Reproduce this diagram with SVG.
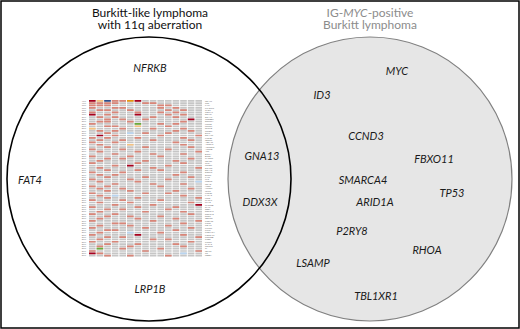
<svg xmlns="http://www.w3.org/2000/svg" width="520" height="329" viewBox="0 0 520 329">
<style>
.ti{font-family:Lato,"Open Sans","Liberation Sans",sans-serif;font-size:12px;text-anchor:middle}
.tl{fill:#111}
.tr{fill:#8c8c8c}
.g{font-family:Lato,"Open Sans","Liberation Sans",sans-serif;font-size:11px;font-style:italic;fill:#1a1a1a;text-anchor:middle}
.sm{font-family:"Liberation Sans",Arial,sans-serif;font-size:2.1px;fill:#666}
</style>
<rect x="1" y="1" width="518" height="327" fill="#fff" stroke="#000" stroke-width="1.5"/>
<g id="set-right">
<circle cx="370" cy="179" r="142" fill="#e6e6e6" stroke="#808080" stroke-width="1.2"/>
<text class="ti tr" x="370" y="17">IG-<tspan font-style="italic">MYC</tspan>-positive</text>
<text class="ti tr" x="370" y="29">Burkitt lymphoma</text>
</g>
<g id="set-left">
<circle cx="149" cy="179" r="142" fill="none" stroke="#000" stroke-width="1.6"/>
<text class="ti tl" x="150" y="17">Burkitt-like lymphoma</text>
<text class="ti tl" x="150" y="29">with 11q aberration</text>
</g>
<g id="heatmap">
<g transform="translate(89,100) scale(7.6,2.31)">
<path d="M.435 0V68M1.435 0V68M2.435 0V68M3.435 0V68M4.435 0V68M5.435 0V68M6.435 0V68M7.435 0V68M8.435 0V68M9.435 0V68M10.435 0V68M11.435 0V68M12.435 0V68M13.435 0V68M14.435 0V68" stroke="#c6c6c6" stroke-width=".87" stroke-dasharray=".74 .26" fill="none"/>
<path fill="#d98578" d="M3 0h.87v.74h-.87zM4 0h.87v.74h-.87zM0 1h.87v.74h-.87zM1 1h.87v.74h-.87zM2 1h.87v.74h-.87zM3 1h.87v.74h-.87zM7 1h.87v.74h-.87zM8 1h.87v.74h-.87zM0 2h.87v.74h-.87zM1 2h.87v.74h-.87zM2 2h.87v.74h-.87zM9 2h.87v.74h-.87zM10 2h.87v.74h-.87zM0 3h.87v.74h-.87zM3 3h.87v.74h-.87zM4 3h.87v.74h-.87zM9 3h.87v.74h-.87zM11 3h.87v.74h-.87zM1 4h.87v.74h-.87zM2 4h.87v.74h-.87zM5 4h.87v.74h-.87zM10 4h.87v.74h-.87zM12 4h.87v.74h-.87zM0 5h.87v.74h-.87zM3 5h.87v.74h-.87zM6 5h.87v.74h-.87zM9 5h.87v.74h-.87zM11 5h.87v.74h-.87zM2 6h.87v.74h-.87zM10 6h.87v.74h-.87zM12 6h.87v.74h-.87zM1 7h.87v.74h-.87zM3 7h.87v.74h-.87zM8 7h.87v.74h-.87zM11 7h.87v.74h-.87zM2 8h.87v.74h-.87zM4 8h.87v.74h-.87zM7 8h.87v.74h-.87zM1 9h.87v.74h-.87zM2 9h.87v.74h-.87zM5 9h.87v.74h-.87zM12 9h.87v.74h-.87zM0 10h.87v.74h-.87zM9 10h.87v.74h-.87zM11 10h.87v.74h-.87zM2 11h.87v.74h-.87zM3 11h.87v.74h-.87zM10 11h.87v.74h-.87zM4 12h.87v.74h-.87zM8 12h.87v.74h-.87zM12 12h.87v.74h-.87zM1 13h.87v.74h-.87zM3 13h.87v.74h-.87zM11 13h.87v.74h-.87zM13 13h.87v.74h-.87zM2 14h.87v.74h-.87zM7 14h.87v.74h-.87zM10 14h.87v.74h-.87zM3 15h.87v.74h-.87zM9 15h.87v.74h-.87zM14 15h.87v.74h-.87zM0 16h.87v.74h-.87zM2 16h.87v.74h-.87zM6 16h.87v.74h-.87zM12 16h.87v.74h-.87zM1 17h.87v.74h-.87zM4 17h.87v.74h-.87zM8 17h.87v.74h-.87zM13 17h.87v.74h-.87zM0 18h.87v.74h-.87zM3 18h.87v.74h-.87zM11 18h.87v.74h-.87zM1 19h.87v.74h-.87zM12 19h.87v.74h-.87zM2 20h.87v.74h-.87zM7 20h.87v.74h-.87zM13 20h.87v.74h-.87zM0 21h.87v.74h-.87zM4 21h.87v.74h-.87zM10 21h.87v.74h-.87zM1 22h.87v.74h-.87zM6 22h.87v.74h-.87zM14 22h.87v.74h-.87zM3 23h.87v.74h-.87zM8 23h.87v.74h-.87zM12 23h.87v.74h-.87zM0 24h.87v.74h-.87zM5 24h.87v.74h-.87zM9 24h.87v.74h-.87zM2 25h.87v.74h-.87zM4 25h.87v.74h-.87zM13 25h.87v.74h-.87zM1 26h.87v.74h-.87zM7 26h.87v.74h-.87zM11 26h.87v.74h-.87zM0 27h.87v.74h-.87zM6 27h.87v.74h-.87zM12 27h.87v.74h-.87zM3 28h.87v.74h-.87zM10 28h.87v.74h-.87zM1 29h.87v.74h-.87zM8 29h.87v.74h-.87zM14 29h.87v.74h-.87zM2 30h.87v.74h-.87zM6 30h.87v.74h-.87zM9 30h.87v.74h-.87zM0 31h.87v.74h-.87zM4 31h.87v.74h-.87zM12 31h.87v.74h-.87zM1 32h.87v.74h-.87zM3 32h.87v.74h-.87zM11 32h.87v.74h-.87zM2 33h.87v.74h-.87zM7 33h.87v.74h-.87zM13 33h.87v.74h-.87zM0 34h.87v.74h-.87zM5 34h.87v.74h-.87zM10 34h.87v.74h-.87zM1 35h.87v.74h-.87zM6 35h.87v.74h-.87zM3 36h.87v.74h-.87zM8 36h.87v.74h-.87zM12 36h.87v.74h-.87zM0 37h.87v.74h-.87zM2 37h.87v.74h-.87zM9 37h.87v.74h-.87zM1 38h.87v.74h-.87zM4 38h.87v.74h-.87zM13 38h.87v.74h-.87zM2 39h.87v.74h-.87zM5 39h.87v.74h-.87zM11 39h.87v.74h-.87zM0 40h.87v.74h-.87zM7 40h.87v.74h-.87zM10 40h.87v.74h-.87zM1 41h.87v.74h-.87zM12 41h.87v.74h-.87zM2 42h.87v.74h-.87zM6 42h.87v.74h-.87zM14 42h.87v.74h-.87zM0 43h.87v.74h-.87zM4 43h.87v.74h-.87zM9 43h.87v.74h-.87zM1 44h.87v.74h-.87zM5 44h.87v.74h-.87zM13 44h.87v.74h-.87zM3 45h.87v.74h-.87zM8 45h.87v.74h-.87zM0 46h.87v.74h-.87zM6 46h.87v.74h-.87zM11 46h.87v.74h-.87zM2 47h.87v.74h-.87zM4 47h.87v.74h-.87zM10 47h.87v.74h-.87zM1 48h.87v.74h-.87zM7 48h.87v.74h-.87zM12 48h.87v.74h-.87zM0 49h.87v.74h-.87zM3 49h.87v.74h-.87zM13 49h.87v.74h-.87zM2 50h.87v.74h-.87zM5 50h.87v.74h-.87zM9 50h.87v.74h-.87zM1 51h.87v.74h-.87zM6 51h.87v.74h-.87zM11 51h.87v.74h-.87zM0 52h.87v.74h-.87zM8 52h.87v.74h-.87zM14 52h.87v.74h-.87zM3 53h.87v.74h-.87zM4 53h.87v.74h-.87zM12 53h.87v.74h-.87zM1 54h.87v.74h-.87zM5 54h.87v.74h-.87zM10 54h.87v.74h-.87zM0 55h.87v.74h-.87zM7 55h.87v.74h-.87zM13 55h.87v.74h-.87zM2 56h.87v.74h-.87zM3 56h.87v.74h-.87zM11 56h.87v.74h-.87zM1 57h.87v.74h-.87zM9 57h.87v.74h-.87zM0 58h.87v.74h-.87zM12 58h.87v.74h-.87zM2 59h.87v.74h-.87zM4 59h.87v.74h-.87zM14 59h.87v.74h-.87zM1 60h.87v.74h-.87zM8 60h.87v.74h-.87zM10 60h.87v.74h-.87zM0 61h.87v.74h-.87zM3 61h.87v.74h-.87zM13 61h.87v.74h-.87zM2 62h.87v.74h-.87zM6 62h.87v.74h-.87zM11 62h.87v.74h-.87zM1 63h.87v.74h-.87zM5 63h.87v.74h-.87zM12 63h.87v.74h-.87zM4 64h.87v.74h-.87zM9 64h.87v.74h-.87zM0 65h.87v.74h-.87zM7 65h.87v.74h-.87zM14 65h.87v.74h-.87zM1 66h.87v.74h-.87zM2 67h.87v.74h-.87zM5 67h.87v.74h-.87zM10 67h.87v.74h-.87z"/>
<path fill="#a8001e" d="M0 0h.87v.74h-.87zM6 0h.87v.74h-.87zM0 6h.87v.74h-.87zM6 6h.87v.74h-.87zM13 8h.87v.74h-.87zM1 15h.87v.74h-.87zM5 28h.87v.74h-.87zM14 45h.87v.74h-.87zM6 58h.87v.74h-.87zM0 66h.87v.74h-.87z"/>
<path fill="#f5c27e" d="M1 0h.87v.74h-.87zM6 11h.87v.74h-.87zM0 12h.87v.74h-.87zM5 19h.87v.74h-.87z"/>
<path fill="#2b4c8c" d="M2 0h.87v.74h-.87z"/>
<path fill="#e8960e" d="M5 0h.87v.74h-.87z"/>
<path fill="#6aaa3a" d="M6 10h.87v.74h-.87zM1 64h.87v.74h-.87z"/>
<path fill="#b8d4f0" d="M5 14h.87v.74h-.87zM14 35h.87v.74h-.87zM3 41h.87v.74h-.87zM5 57h.87v.74h-.87zM12 66h.87v.74h-.87z"/>
</g>
<text class="sm" text-anchor="end" x="86" y="101.6"><tspan x="86">47%</tspan><tspan x="86" dy="2.31">40%</tspan><tspan x="86" dy="2.31">33%</tspan><tspan x="86" dy="2.31">33%</tspan><tspan x="86" dy="2.31">33%</tspan><tspan x="86" dy="2.31">33%</tspan><tspan x="86" dy="2.31">33%</tspan><tspan x="86" dy="2.31">27%</tspan><tspan x="86" dy="2.31">27%</tspan><tspan x="86" dy="2.31">27%</tspan><tspan x="86" dy="2.31">27%</tspan><tspan x="86" dy="2.31">27%</tspan><tspan x="86" dy="2.31">27%</tspan><tspan x="86" dy="2.31">27%</tspan><tspan x="86" dy="2.31">27%</tspan><tspan x="86" dy="2.31">27%</tspan><tspan x="86" dy="2.31">27%</tspan><tspan x="86" dy="2.31">27%</tspan><tspan x="86" dy="2.31">20%</tspan><tspan x="86" dy="2.31">20%</tspan><tspan x="86" dy="2.31">20%</tspan><tspan x="86" dy="2.31">20%</tspan><tspan x="86" dy="2.31">20%</tspan><tspan x="86" dy="2.31">20%</tspan><tspan x="86" dy="2.31">20%</tspan><tspan x="86" dy="2.31">20%</tspan><tspan x="86" dy="2.31">20%</tspan><tspan x="86" dy="2.31">20%</tspan><tspan x="86" dy="2.31">20%</tspan><tspan x="86" dy="2.31">20%</tspan><tspan x="86" dy="2.31">20%</tspan><tspan x="86" dy="2.31">20%</tspan><tspan x="86" dy="2.31">20%</tspan><tspan x="86" dy="2.31">20%</tspan><tspan x="86" dy="2.31">20%</tspan><tspan x="86" dy="2.31">20%</tspan><tspan x="86" dy="2.31">20%</tspan><tspan x="86" dy="2.31">20%</tspan><tspan x="86" dy="2.31">20%</tspan><tspan x="86" dy="2.31">20%</tspan><tspan x="86" dy="2.31">20%</tspan><tspan x="86" dy="2.31">20%</tspan><tspan x="86" dy="2.31">20%</tspan><tspan x="86" dy="2.31">20%</tspan><tspan x="86" dy="2.31">20%</tspan><tspan x="86" dy="2.31">20%</tspan><tspan x="86" dy="2.31">20%</tspan><tspan x="86" dy="2.31">20%</tspan><tspan x="86" dy="2.31">20%</tspan><tspan x="86" dy="2.31">20%</tspan><tspan x="86" dy="2.31">20%</tspan><tspan x="86" dy="2.31">20%</tspan><tspan x="86" dy="2.31">20%</tspan><tspan x="86" dy="2.31">20%</tspan><tspan x="86" dy="2.31">20%</tspan><tspan x="86" dy="2.31">20%</tspan><tspan x="86" dy="2.31">20%</tspan><tspan x="86" dy="2.31">20%</tspan><tspan x="86" dy="2.31">20%</tspan><tspan x="86" dy="2.31">20%</tspan><tspan x="86" dy="2.31">20%</tspan><tspan x="86" dy="2.31">20%</tspan><tspan x="86" dy="2.31">20%</tspan><tspan x="86" dy="2.31">20%</tspan><tspan x="86" dy="2.31">20%</tspan><tspan x="86" dy="2.31">20%</tspan><tspan x="86" dy="2.31">20%</tspan><tspan x="86" dy="2.31">20%</tspan></text>
<text class="sm" x="205" y="101.6"><tspan x="205">GNA13</tspan><tspan x="205" dy="2.31">TTN</tspan><tspan x="205" dy="2.31">FAT4</tspan><tspan x="205" dy="2.31">PKHD1L1</tspan><tspan x="205" dy="2.31">CHD7</tspan><tspan x="205" dy="2.31">COL6A6</tspan><tspan x="205" dy="2.31">DDX3X</tspan><tspan x="205" dy="2.31">DNAH9</tspan><tspan x="205" dy="2.31">CREBBP</tspan><tspan x="205" dy="2.31">DNMT3A</tspan><tspan x="205" dy="2.31">LRP1B</tspan><tspan x="205" dy="2.31">MUC16</tspan><tspan x="205" dy="2.31">NFRKB</tspan><tspan x="205" dy="2.31">CSMD3</tspan><tspan x="205" dy="2.31">ETV6</tspan><tspan x="205" dy="2.31">DNAH11</tspan><tspan x="205" dy="2.31">KMT2D</tspan><tspan x="205" dy="2.31">TENM3</tspan><tspan x="205" dy="2.31">ABCA13</tspan><tspan x="205" dy="2.31">ADGRV1</tspan><tspan x="205" dy="2.31">ANKRD11</tspan><tspan x="205" dy="2.31">ARID1B</tspan><tspan x="205" dy="2.31">ATR</tspan><tspan x="205" dy="2.31">BCL7A</tspan><tspan x="205" dy="2.31">BTG2</tspan><tspan x="205" dy="2.31">CARD11</tspan><tspan x="205" dy="2.31">CDH23</tspan><tspan x="205" dy="2.31">CIITA</tspan><tspan x="205" dy="2.31">CSMD1</tspan><tspan x="205" dy="2.31">DCHS2</tspan><tspan x="205" dy="2.31">DNAH2</tspan><tspan x="205" dy="2.31">DOCK8</tspan><tspan x="205" dy="2.31">EP300</tspan><tspan x="205" dy="2.31">FAT1</tspan><tspan x="205" dy="2.31">FLG</tspan><tspan x="205" dy="2.31">FREM2</tspan><tspan x="205" dy="2.31">GNAI2</tspan><tspan x="205" dy="2.31">HCN1</tspan><tspan x="205" dy="2.31">HMCN1</tspan><tspan x="205" dy="2.31">IGLL5</tspan><tspan x="205" dy="2.31">KMT2C</tspan><tspan x="205" dy="2.31">LAMA2</tspan><tspan x="205" dy="2.31">LRP2</tspan><tspan x="205" dy="2.31">MACF1</tspan><tspan x="205" dy="2.31">MYH2</tspan><tspan x="205" dy="2.31">MYO18B</tspan><tspan x="205" dy="2.31">NAV3</tspan><tspan x="205" dy="2.31">NBEA</tspan><tspan x="205" dy="2.31">NOTCH1</tspan><tspan x="205" dy="2.31">NOTCH2</tspan><tspan x="205" dy="2.31">NSD1</tspan><tspan x="205" dy="2.31">OBSCN</tspan><tspan x="205" dy="2.31">PCDH15</tspan><tspan x="205" dy="2.31">PCLO</tspan><tspan x="205" dy="2.31">PEAK1</tspan><tspan x="205" dy="2.31">PIK3R1</tspan><tspan x="205" dy="2.31">PKLR</tspan><tspan x="205" dy="2.31">PLEKHG4</tspan><tspan x="205" dy="2.31">POU2AF1</tspan><tspan x="205" dy="2.31">PRRC2B</tspan><tspan x="205" dy="2.31">PTEN</tspan><tspan x="205" dy="2.31">PTPRK</tspan><tspan x="205" dy="2.31">RASA2</tspan><tspan x="205" dy="2.31">RNF213</tspan><tspan x="205" dy="2.31">SI</tspan><tspan x="205" dy="2.31">TEX15</tspan><tspan x="205" dy="2.31">TG</tspan><tspan x="205" dy="2.31">UBE2A</tspan></text>
</g>
<g id="genes">
<text class="g" x="150" y="72">NFRKB</text>
<text class="g" x="30" y="184">FAT4</text>
<text class="g" x="150" y="293">LRP1B</text>
<text class="g" x="262" y="160">GNA13</text>
<text class="g" x="260" y="206">DDX3X</text>
<text class="g" x="397" y="75">MYC</text>
<text class="g" x="322" y="99">ID3</text>
<text class="g" x="366" y="140">CCND3</text>
<text class="g" x="434" y="163">FBXO11</text>
<text class="g" x="363" y="184">SMARCA4</text>
<text class="g" x="452" y="197">TP53</text>
<text class="g" x="375" y="206">ARID1A</text>
<text class="g" x="352" y="235">P2RY8</text>
<text class="g" x="427" y="254">RHOA</text>
<text class="g" x="313" y="267">LSAMP</text>
<text class="g" x="376" y="300">TBL1XR1</text>
</g>
</svg>
